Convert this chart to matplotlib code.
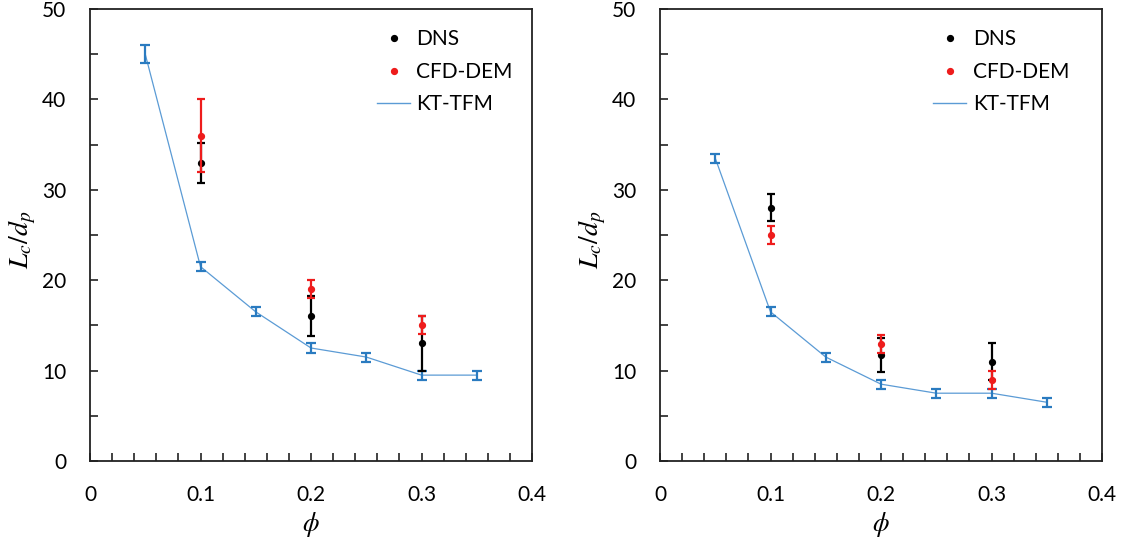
import matplotlib
matplotlib.use("Agg")
import matplotlib.pyplot as plt
from matplotlib.lines import Line2D
from matplotlib.ticker import MultipleLocator, FuncFormatter

plt.rcParams['font.family'] = ['Lato', 'DejaVu Sans']
plt.rcParams['mathtext.fontset'] = 'stix'

phi_kt = [0.05, 0.10, 0.15, 0.20, 0.25, 0.30, 0.35]
phi_exp = [0.10, 0.20, 0.30]

# Left panel
kt_left = [45.0, 21.5, 16.5, 12.5, 11.5, 9.5, 9.5]
kt_left_err = [1.0, 0.5, 0.5, 0.5, 0.5, 0.5, 0.5]
dns_left = [33.0, 16.0, 13.0]
dns_left_err = [2.2, 2.2, 3.0]
cfd_left = [36.0, 19.0, 15.0]
cfd_left_err = [4.0, 1.0, 1.0]

# Right panel
kt_right = [33.5, 16.5, 11.5, 8.5, 7.5, 7.5, 6.5]
kt_right_err = [0.5, 0.5, 0.5, 0.5, 0.5, 0.5, 0.5]
dns_right = [28.0, 11.7, 11.0]
dns_right_err = [1.5, 1.9, 2.0]
cfd_right = [25.0, 12.9, 9.0]
cfd_right_err = [1.0, 1.0, 1.0]

labels = ['DNS', 'CFD-DEM', 'KT-TFM']

LINE_BLUE = '#5B9BD5'
ERR_BLUE = '#2A7BC0'
RED = '#EE1C1C'
BLACK = '#000000'

fig = plt.figure(figsize=(11.23, 5.37), dpi=100)
ax_l = fig.add_axes([90/1123, 76/537, 442/1123, 452/537])
ax_r = fig.add_axes([660/1123, 76/537, 442/1123, 452/537])

def draw(ax, kt, kt_err, dns, dns_err, cfd, cfd_err, leg_x):
    ax.plot(phi_kt, kt, color=LINE_BLUE, lw=0.9, zorder=2)
    ax.errorbar(phi_kt, kt, yerr=kt_err, fmt='none', ecolor=ERR_BLUE,
                elinewidth=1.6, capsize=3.5, capthick=1.6, zorder=3)
    ax.errorbar(phi_exp, dns, yerr=dns_err, fmt='o', color=BLACK, ms=4.2,
                ecolor=BLACK, elinewidth=1.6, capsize=3.0, capthick=1.6, zorder=4)
    ax.errorbar(phi_exp, cfd, yerr=cfd_err, fmt='o', color=RED, ms=4.2,
                ecolor=RED, elinewidth=1.6, capsize=3.0, capthick=1.6, zorder=5)
    ax.set_xlim(0, 0.4)
    ax.set_ylim(0, 50)
    ax.xaxis.set_major_locator(MultipleLocator(0.1))
    ax.xaxis.set_minor_locator(MultipleLocator(0.02))
    ax.yaxis.set_major_locator(MultipleLocator(10))
    ax.yaxis.set_minor_locator(MultipleLocator(5))
    ax.xaxis.set_major_formatter(FuncFormatter(lambda v, p: '0' if abs(v) < 1e-9 else f'{v:.1f}'))
    ax.yaxis.set_major_formatter(FuncFormatter(lambda v, p: f'{int(round(v))}'))
    ax.tick_params(axis='both', which='both', direction='in', length=6, width=1.2,
                   colors='#222222', labelsize=15, labelcolor='#000000')
    ax.tick_params(axis='x', which='both', pad=17, top=False)
    ax.tick_params(axis='y', which='both', pad=17, right=False)
    for s in ax.spines.values():
        s.set_linewidth(1.3)
        s.set_color('#222222')
    ax.set_xlabel(r'$\phi$', fontsize=19)
    ax.xaxis.set_label_coords(0.5, -0.108)
    ax.set_ylabel(r'$L_c/d_p$', fontsize=20)
    ax.yaxis.set_label_coords(-0.118, 0.49)
    handles = [
        Line2D([], [], ls='none', marker='o', color=BLACK, ms=4.2),
        Line2D([], [], ls='none', marker='o', color=RED, ms=4.2),
        Line2D([], [], color=LINE_BLUE, lw=1.0),
    ]
    ax.legend(handles, labels, loc='upper left', bbox_to_anchor=(leg_x, 0.955),
              frameon=False, fontsize=15, handlelength=1.6, handletextpad=0.3,
              labelspacing=0.6, borderpad=0, borderaxespad=0)

draw(ax_l, kt_left, kt_left_err, dns_left, dns_left_err, cfd_left, cfd_left_err, 0.649)
draw(ax_r, kt_right, kt_right_err, dns_right, dns_right_err, cfd_right, cfd_right_err, 0.618)

fig.savefig('out.png', dpi=100)
